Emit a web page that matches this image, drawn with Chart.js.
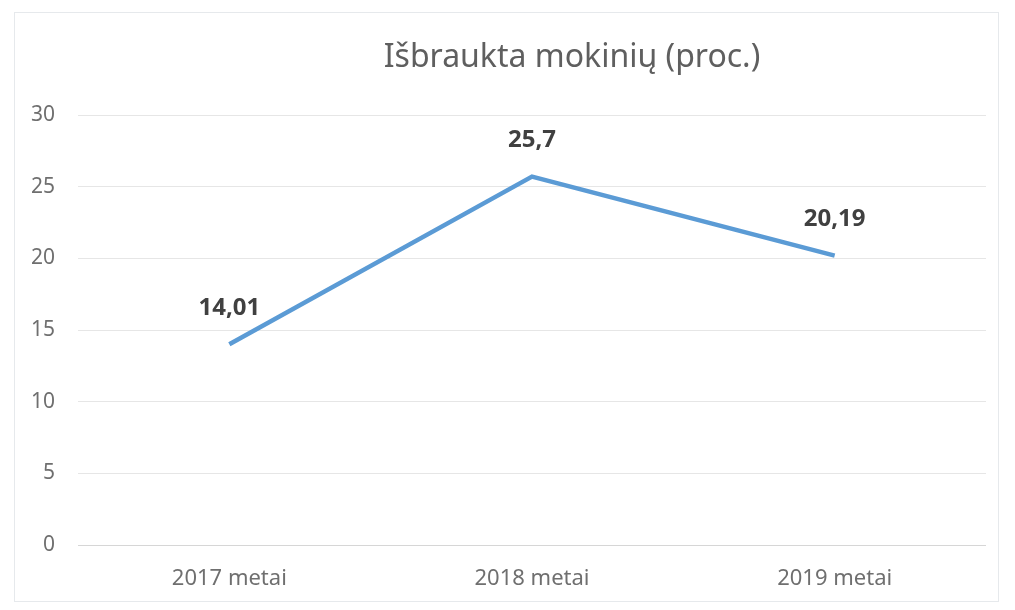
<!DOCTYPE html>
<html>
<head>
<meta charset="utf-8">
<script src="https://cdn.jsdelivr.net/npm/chart.js@4"></script>
<style>
  html, body { margin: 0; padding: 0; background: #fff; }
  #wrap { position: relative; width: 1015px; height: 610px; }
  #frame { position: absolute; left: 14px; top: 12px; width: 985px; height: 590px; border: 1px solid #e6e9ec; box-sizing: border-box; pointer-events: none; }
  canvas { position: absolute; left: 0; top: 0; }
</style>
</head>
<body>
<div id="wrap">
  <canvas id="c" width="1015" height="610"></canvas>
  <div id="frame"></div>
</div>
<script>
const titleText = "Išbraukta mokinių (proc.)";
const categories = ["2017 metai", "2018 metai", "2019 metai"];
const values = [14.01, 25.7, 20.19];
const valueLabels = ["14,01", "25,7", "20,19"];
const yMin = 0, yMax = 30, yStep = 5;

const labelPlugin = {
  id: 'valueLabels',
  afterDatasetsDraw(chart) {
    const ctx = chart.ctx;
    const meta = chart.getDatasetMeta(0);
    ctx.save();
    ctx.font = "bold 24px 'Noto Sans'";
    ctx.fillStyle = '#404040';
    ctx.textAlign = 'center';
    ctx.textBaseline = 'middle';
    meta.data.forEach((pt, i) => {
      ctx.fillText(valueLabels[i], pt.x, pt.y - 36);
    });
    ctx.restore();
  }
};

const titlePlugin = {
  id: 'offsetTitle',
  afterDraw(chart) {
    const ctx = chart.ctx;
    ctx.save();
    ctx.font = "32px 'Noto Sans'";
    ctx.fillStyle = '#5f5f5f';
    ctx.textAlign = 'center';
    ctx.textBaseline = 'middle';
    ctx.fillText(titleText, 572, 58);
    ctx.restore();
  }
};

new Chart(document.getElementById('c'), {
  type: 'line',
  data: {
    labels: categories,
    datasets: [{
      data: values,
      borderColor: '#5B9BD5',
      borderWidth: 4.5,
      pointRadius: 0,
      pointHoverRadius: 0,
      tension: 0,
      fill: false
    }]
  },
  options: {
    responsive: false,
    animation: false,
    layout: { padding: { left: 0, right: 29, top: 115, bottom: 0 } },
    plugins: {
      legend: { display: false },
      tooltip: { enabled: false },
      title: { display: false }
    },
    scales: {
      x: {
        offset: true,
        grid: { display: false, drawTicks: false },
        border: { display: false },
        ticks: { color: '#6f6f6f', font: { family: "'Noto Sans'", size: 22 }, padding: 21 },
        afterFit(s) { s.height = 65; }
      },
      y: {
        min: yMin, max: yMax,
        ticks: { stepSize: yStep, color: '#6f6f6f', font: { family: "'Noto Sans'", size: 21 }, padding: 23 },
        grid: {
          drawTicks: false,
          color: (c) => c.tick && c.tick.value === 0 ? '#d6d6d6' : '#e6e6e6',
          lineWidth: 1
        },
        border: { display: false },
        afterFit(s) { s.width = 78; }
      }
    }
  },
  plugins: [labelPlugin, titlePlugin]
});
</script>
</body>
</html>
